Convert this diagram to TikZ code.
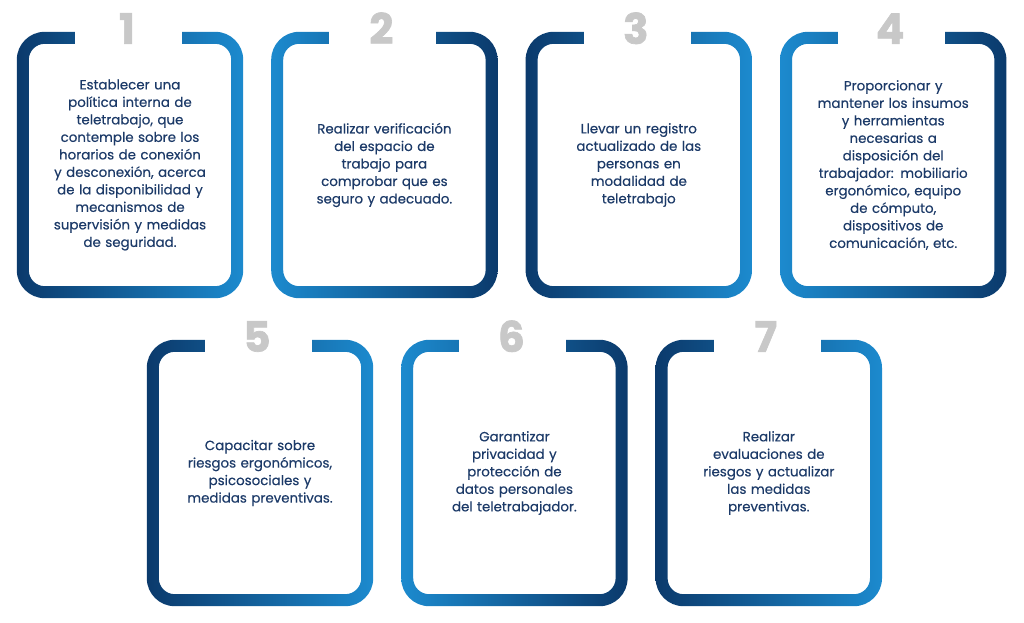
\documentclass[tikz,border=0pt]{standalone}
\usepackage{fontspec}
\setmainfont{Poppins}
\newfontfamily\textofont{Poppins}[FakeBold=0.4]
\newfontfamily\numfont{Poppins}[FakeBold=1.6]
\usetikzlibrary{positioning}
\definecolor{azul}{RGB}{11,58,108}
\definecolor{celeste}{RGB}{28,138,206}
\definecolor{texto}{RGB}{28,58,104}
\definecolor{gris}{RGB}{200,200,200}

\begin{document}
\begin{tikzpicture}[x=1pt,y=1pt,node distance=28pt,
    paso/.style={minimum width=226pt,minimum height=266pt,inner sep=0pt,text width=210pt,align=center,
      text=texto,font=\textofont\fontsize{13.4}{17.5}\selectfont},
    num/.style={text=gris,font=\numfont\fontsize{42}{42}\selectfont\bfseries,anchor=base,inner sep=0pt}]
  \useasboundingbox (0,0) rectangle (1024,622);

  \node[paso] (p1) at (130,457) {Establecer una\\ política interna de\\ teletrabajo, que\\ contemple sobre los\\ horarios de conexión\\ y desconexión, acerca\\ de la disponibilidad y\\ mecanismos de\\ supervisión y medidas\\ de seguridad.};
  \node[paso] (p2) [right=of p1] {Realizar verificación\\ del espacio de\\ trabajo para\\ comprobar que es\\ seguro y adecuado.};
  \node[paso] (p3) [right=of p2] {Llevar un registro\\ actualizado de las\\ personas en\\ modalidad de\\ teletrabajo};
  \node[paso] (p4) [right=of p3] {Proporcionar y\\ mantener los insumos\\ y herramientas\\ necesarias a\\ disposición del\\ trabajador: mobiliario\\ ergonómico, equipo\\ de cómputo,\\ dispositivos de\\ comunicación, etc.};
  \node[paso] (p5) at (260,149) {Capacitar sobre\\ riesgos ergonómicos,\\ psicosociales y\\ medidas preventivas.};
  \node[paso] (p6) [right=of p5] {Garantizar\\ privacidad y\\ protección de\\ datos personales\\ del teletrabajador.};
  \node[paso] (p7) [right=of p6] {Realizar\\ evaluaciones de\\ riesgos y actualizar\\ las medidas\\ preventivas.};

  % marcos con degradado y numero
  \foreach \n/\izq/\der in {1/azul/celeste,2/celeste/azul,3/azul/celeste,4/celeste/azul,
                             5/azul/celeste,6/celeste/azul,7/azul/celeste}{
    \shade[left color=\izq,right color=\der,even odd rule,rounded corners=28]
      (p\n.south west) rectangle (p\n.north east)
      [rounded corners=16] ([shift={(12,12)}]p\n.south west) rectangle ([shift={(-12,-12)}]p\n.north east);
    \fill[white] ([shift={(-55,1)}]p\n.north) rectangle ([shift={(52,-13)}]p\n.north);
    \node[num] (n\n) at ([xshift=-3,yshift=-12]p\n.north) {\n};
  }
\end{tikzpicture}
\end{document}
